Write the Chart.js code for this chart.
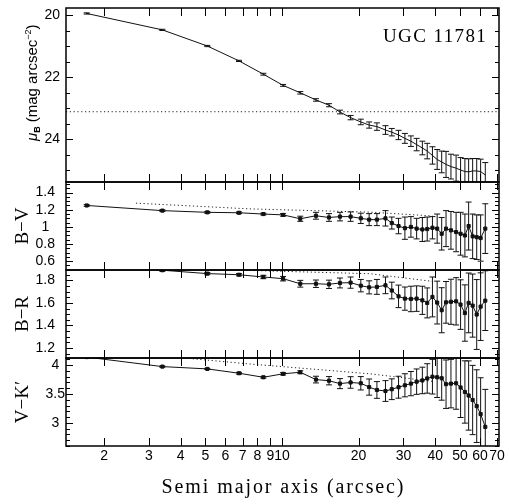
<!DOCTYPE html>
<html>
<head>
<meta charset="utf-8">
<script src="https://cdn.jsdelivr.net/npm/chart.js@4"></script>
<style>
  html, body { margin: 0; padding: 0; background: #fff; }
  #wrap { width: 509px; height: 504px; position: relative; }
</style>
</head>
<body>
<div id="wrap"><canvas id="profiles"></canvas></div>
<script>
// semi major axis of each fitted ellipse (arcsec)
const radius = [1.71, 3.39, 5.09, 6.78, 8.45, 10.1, 11.8, 13.6, 15.3, 16.9, 18.6, 20.4, 22.0, 23.6, 25.5, 27.0, 28.7, 30.4, 32.1, 33.8,
  35.6, 37.2, 39.0, 40.7, 42.4, 44.1, 46.1, 48.3, 50.3, 52.3, 54.1, 56.1, 58.2, 60.3, 62.9];

// B surface brightness (mag arcsec^-2)
const muB = [19.95, 20.48, 21.0, 21.48, 21.91, 22.27, 22.51, 22.74, 22.91, 23.13, 23.31, 23.45, 23.55, 23.60, 23.71, 23.78, 23.87, 23.98, 24.07, 24.18,
  24.29, 24.39, 24.53, 24.66, 24.74, 24.82, 24.89, 24.94, 25.0, 25.05, 25.06, 25.03, 25.03, 25.05, 25.16];
const muBErr = [0.02, 0.02, 0.02, 0.02, 0.03, 0.03, 0.04, 0.04, 0.05, 0.06, 0.07, 0.09, 0.1, 0.12, 0.14, 0.12, 0.15, 0.16, 0.17, 0.2,
  0.22, 0.25, 0.28, 0.32, 0.35, 0.42, 0.4, 0.42, 0.4, 0.42, 0.42, 0.4, 0.4, 0.4, 0.4];

// colours
const bv = [1.25, 1.19, 1.17, 1.165, 1.15, 1.14, 1.095, 1.13, 1.11, 1.12, 1.12, 1.10, 1.085, 1.085, 1.10, 1.045, 1.01, 0.985, 1.0, 0.98,
  0.97, 0.975, 0.99, 0.98, 0.92, 0.98, 0.96, 0.94, 0.92, 0.90, 1.01, 0.89, 0.88, 0.87, 0.98];
const bvErr = [0.01, 0.01, 0.01, 0.01, 0.01, 0.015, 0.03, 0.04, 0.045, 0.05, 0.055, 0.06, 0.07, 0.07, 0.09, 0.07, 0.09, 0.13, 0.12, 0.12,
  0.14, 0.14, 0.13, 0.17, 0.19, 0.21, 0.22, 0.23, 0.25, 0.25, 0.28, 0.26, 0.26, 0.27, 0.29];

const br = [1.95, 1.89, 1.86, 1.85, 1.83, 1.815, 1.77, 1.77, 1.765, 1.777, 1.78, 1.753, 1.738, 1.742, 1.756, 1.71, 1.658, 1.638, 1.635, 1.638,
  1.623, 1.60, 1.653, 1.603, 1.535, 1.605, 1.61, 1.614, 1.585, 1.51, 1.60, 1.576, 1.497, 1.567, 1.62];
const brErr = [0.01, 0.01, 0.01, 0.01, 0.015, 0.02, 0.03, 0.033, 0.037, 0.044, 0.05, 0.055, 0.058, 0.066, 0.074, 0.074, 0.1, 0.103, 0.113, 0.113,
  0.125, 0.133, 0.177, 0.19, 0.2, 0.185, 0.2, 0.21, 0.22, 0.25, 0.265, 0.28, 0.31, 0.3, 0.265];

const vk = [4.14, 3.975, 3.935, 3.86, 3.79, 3.85, 3.877, 3.75, 3.73, 3.68, 3.70, 3.686, 3.62, 3.57, 3.552, 3.583, 3.618, 3.651, 3.68, 3.714,
  3.735, 3.77, 3.80, 3.79, 3.773, 3.67, 3.68, 3.686, 3.613, 3.535, 3.474, 3.396, 3.29, 3.152, 2.93];
const vkErr = [0.01, 0.01, 0.01, 0.015, 0.015, 0.02, 0.025, 0.058, 0.072, 0.087, 0.1, 0.116, 0.14, 0.145, 0.18, 0.18, 0.19, 0.2, 0.21, 0.22,
  0.23, 0.255, 0.3, 0.35, 0.38, 0.42, 0.42, 0.45, 0.52, 0.54, 0.6, 0.6, 0.63, 0.63, 0.65];

// dotted comparison lines
const muLimit = 23.12;
const modelR = [2.67, 7.49, 22.2, 39.0];
const bvModel = [1.277, 1.21, 1.172, 1.128];
const brModel = [1.92, 1.888, 1.859, 1.791];
const vkModel = [4.2, 4.02, 3.85, 3.72];

// axes
const xMin = 1.418, xMax = 71.2;
const xTicks = [2, 3, 4, 5, 6, 7, 8, 9, 10, 20, 30, 40, 50, 60, 70];
const muTicks = [20, 22, 24];
const bvTicks = [0.6, 0.8, 1, 1.2, 1.4];
const brTicks = [1.2, 1.4, 1.6, 1.8];
const vkTicks = [3, 3.5, 4];

const sans = "'Liberation Sans', Arial, sans-serif";
const serif = "'Liberation Serif', 'Times New Roman', serif";

function pts(ys, xs) {
  return ys.map((v, i) => ({ x: (xs || radius)[i], y: v }));
}

function profile(ys, errs, axis, marker) {
  return {
    data: pts(ys), errors: errs, yAxisID: axis,
    borderColor: '#111', backgroundColor: '#111', borderWidth: 1,
    pointStyle: 'rect', pointRadius: marker ? 2.2 : 0, tension: 0
  };
}

function dotted(data, axis) {
  return {
    data: data, yAxisID: axis, borderColor: '#222', borderWidth: 1,
    borderDash: [1.2, 2.6], pointRadius: 0, tension: 0
  };
}

// one stacked panel axis on the left
function panelAxis(ticks, min, max, weight, stackWeight, pad, title, reverse) {
  return {
    type: 'linear', position: 'left', stack: 'panels', stackWeight: stackWeight, weight: weight,
    min: min, max: max, reverse: !!reverse,
    grid: { display: false, drawTicks: false }, border: { display: false },
    afterBuildTicks: s => { s.ticks = ticks.map(v => ({ value: v })); },
    afterFit: s => { s.width = 66; s.paddingTop = 0; s.paddingBottom = 0; },
    ticks: {
      autoSkip: false, crossAlign: 'center', padding: pad, color: '#000',
      font: { family: sans, size: 14 }, callback: v => String(v)
    },
    title: title ? {
      display: true, text: title, color: '#000',
      font: { family: serif, size: 19 }, padding: { top: 12, bottom: 0 }
    } : { display: false }
  };
}

// minor tick steps of each panel
const panels = [
  { id: 'mu', ticks: muTicks, step: 0.5 },
  { id: 'bv', ticks: bvTicks, step: 0.05 },
  { id: 'br', ticks: brTicks, step: 0.05 },
  { id: 'vk', ticks: vkTicks, step: 0.1 }
];

const framePlugin = {
  id: 'frames',
  afterDatasetsDraw(chart) {
    const ctx = chart.ctx;
    const x = chart.scales.x;
    chart.data.datasets.forEach(ds => {
      if (!ds.errors) return;
      const y = chart.scales[ds.yAxisID];
      ctx.save();
      ctx.beginPath();
      ctx.rect(x.left, y.top, x.right - x.left, y.bottom - y.top);
      ctx.clip();
      ctx.strokeStyle = '#111';
      ctx.lineWidth = 1;
      ctx.beginPath();
      ds.data.forEach((p, j) => {
        const px = x.getPixelForValue(p.x);
        const lo = y.getPixelForValue(p.y - ds.errors[j]);
        const hi = y.getPixelForValue(p.y + ds.errors[j]);
        ctx.moveTo(px, lo); ctx.lineTo(px, hi);
        ctx.moveTo(px - 3, lo); ctx.lineTo(px + 3, lo);
        ctx.moveTo(px - 3, hi); ctx.lineTo(px + 3, hi);
      });
      ctx.stroke();
      ctx.restore();
    });
  },
  afterDraw(chart) {
    const ctx = chart.ctx;
    const x = chart.scales.x;
    ctx.save();
    ctx.strokeStyle = '#000';
    panels.forEach(p => {
      const y = chart.scales[p.id];
      ctx.lineWidth = 1.5;
      ctx.strokeRect(x.left, y.top, x.right - x.left, y.bottom - y.top);
      ctx.lineWidth = 1;
      ctx.beginPath();
      xTicks.forEach(v => {
        const px = Math.round(x.getPixelForValue(v)) + 0.5;
        ctx.moveTo(px, y.top); ctx.lineTo(px, y.top + 8);
        ctx.moveTo(px, y.bottom); ctx.lineTo(px, y.bottom - 8);
      });
      const lo = Math.min(y.min, y.max), hi = Math.max(y.min, y.max);
      for (let k = Math.ceil(lo / p.step - 1e-6); k * p.step <= hi + 1e-9; k++) {
        const v = k * p.step;
        const major = p.ticks.some(t => Math.abs(t - v) < 1e-6);
        const len = major ? 7 : 4;
        const py = Math.round(y.getPixelForValue(v)) + 0.5;
        ctx.moveTo(x.left, py); ctx.lineTo(x.left + len, py);
        ctx.moveTo(x.right, py); ctx.lineTo(x.right - len, py);
      }
      ctx.stroke();
    });

    ctx.fillStyle = '#000';
    ctx.textBaseline = 'alphabetic';

    // galaxy name
    ctx.font = '19px ' + serif;
    ctx.letterSpacing = '1.4px';
    ctx.textAlign = 'left';
    ctx.fillText('UGC 11781', 383, 42);

    // x axis title, spaced like the original lettering
    ctx.font = '20px ' + serif;
    ctx.letterSpacing = '1.9px';
    ctx.textAlign = 'center';
    ctx.fillText('Semi major axis (arcsec)', (x.left + x.right) / 2 + 1, 493);
    ctx.letterSpacing = '0px';
    ctx.textAlign = 'left';

    // surface brightness axis title with sub/superscript
    ctx.translate(37, 141);
    ctx.rotate(-Math.PI / 2);
    let cx = 0;
    ctx.font = 'italic 15px ' + sans;
    ctx.fillText('μ', cx, 0); cx += ctx.measureText('μ').width;
    ctx.font = 'bold 9px ' + sans;
    ctx.fillText('B', cx, 3); cx += ctx.measureText('B').width + 4;
    ctx.font = '15px ' + sans;
    ctx.fillText('(mag arcsec', cx, 0); cx += ctx.measureText('(mag arcsec').width;
    ctx.font = '9px ' + sans;
    ctx.fillText('−2', cx, -6); cx += ctx.measureText('−2').width;
    ctx.font = '15px ' + sans;
    ctx.fillText(')', cx, 0);
    ctx.restore();
  }
};

new Chart(document.getElementById('profiles'), {
  type: 'line',
  data: {
    datasets: [
      profile(muB, muBErr, 'mu', false),
      dotted([{ x: xMin, y: muLimit }, { x: xMax, y: muLimit }], 'mu'),
      profile(bv, bvErr, 'bv', true),
      dotted(pts(bvModel, modelR), 'bv'),
      profile(br, brErr, 'br', true),
      dotted(pts(brModel, modelR), 'br'),
      profile(vk, vkErr, 'vk', true),
      dotted(pts(vkModel, modelR), 'vk')
    ]
  },
  options: {
    responsive: true,
    maintainAspectRatio: false,
    animation: false,
    events: [],
    layout: { padding: { top: 8, right: 10, left: 0, bottom: 0 } },
    plugins: { legend: { display: false }, tooltip: { enabled: false } },
    scales: {
      x: {
        type: 'logarithmic', position: 'bottom', min: xMin, max: xMax,
        grid: { display: false, drawTicks: false }, border: { display: false },
        afterBuildTicks: s => { s.ticks = xTicks.map(v => ({ value: v })); },
        afterFit: s => { s.height = 58; s.paddingLeft = 0; s.paddingRight = 0; },
        ticks: {
          autoSkip: false, maxRotation: 0, minRotation: 0, padding: 2, color: '#000',
          font: { family: sans, size: 14 }, callback: v => String(v)
        },
        title: { display: false }
      },
      mu: panelAxis(muTicks, 19.774, 25.387, 4, 174, 6, null, true),
      bv: panelAxis(bvTicks, 0.497, 1.524, 3, 88, 11, 'B−V'),
      br: panelAxis(brTicks, 1.111, 1.892, 2, 88, 11, 'B−R'),
      vk: panelAxis(vkTicks, 2.599, 4.124, 1, 88, 1, 'V−K′')
    }
  },
  plugins: [framePlugin]
});
</script>
</body>
</html>
